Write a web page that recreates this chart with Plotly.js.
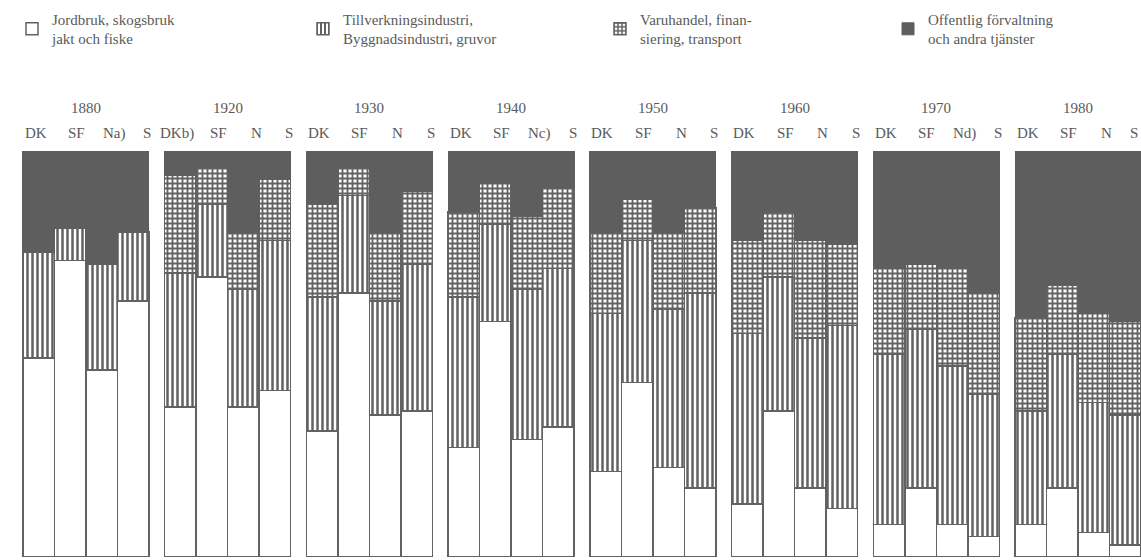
<!DOCTYPE html>
<html>
<head>
<meta charset="utf-8">
<script src="https://cdn.plot.ly/plotly-3.0.1.min.js"></script>
<style>html,body{margin:0;padding:0;background:#fff;}#chart{width:1141px;height:560px;}</style>
</head>
<body>
<div id="chart"></div>
<script>
// Years (one panel each) and country labels for the four bars of each panel
const years = ["1880", "1920", "1930", "1940", "1950", "1960", "1970", "1980"];
const countryLabels = [
  ["DK", "SF", "Na)", "S"],
  ["DKb)", "SF", "N", "S"],
  ["DK", "SF", "N", "S"],
  ["DK", "SF", "Nc)", "S"],
  ["DK", "SF", "N", "S"],
  ["DK", "SF", "N", "S"],
  ["DK", "SF", "Nd)", "S"],
  ["DK", "SF", "N", "S"]
];
// Shares of employment (%) per sector, bars in order DK, SF, N, S for each year
const agriculture = [
  49, 73, 46, 63,
  37, 69, 37, 41,
  31, 65, 35, 36,
  27, 58, 29, 32,
  21, 43, 22, 17,
  13, 36, 17, 12,
  8, 17, 8, 5,
  8, 17, 6, 3
];
const manufacturing = [
  26, 8, 26, 17,
  33, 18, 29, 37,
  33, 24, 28, 36,
  37, 24, 37, 39,
  39, 35, 39, 48,
  42, 33, 37, 45,
  42, 39, 39, 35,
  28, 33, 32, 32
];
const trade = [
  0, 0, 0, 0,
  24, 9, 14, 15,
  23, 7, 17, 18,
  21, 10, 18, 20,
  20, 10, 19, 21,
  23, 16, 24, 20,
  21, 16, 24, 25,
  23, 17, 22, 23
];
const services = [
  25, 19, 28, 20,
  6, 4, 20, 7,
  13, 4, 20, 10,
  15, 8, 16, 9,
  20, 12, 20, 14,
  22, 15, 22, 23,
  29, 28, 29, 35,
  41, 33, 40, 42
];
const sectorNames = [
  "Jordbruk, skogsbruk<br>jakt och fiske",
  "Tillverkningsindustri,<br>Byggnadsindustri, gruvor",
  "Varuhandel, finan-<br>siering, transport",
  "Offentlig förvaltning<br>och andra tjänster"
];

// Layout helpers (positions only)
const groupStep = 4.5;
const labelOffsets = [-0.1, 1.2, 2.4, 3.45];
const xs = [];
const annotations = [];

const ink = "#626262";
const textInk = "#5a5a5a";
const dark = "#5e5e5e";
const serif = "Liberation Serif, DejaVu Serif, serif";
const line = {color: ink, width: 1.5};

years.forEach((y, g) => {
  annotations.push({
    x: g * groupStep + 1.5, xref: "x", y: 1.106, yref: "paper", yanchor: "middle",
    text: y, showarrow: false, font: {family: serif, size: 15, color: textInk}
  });
  for (let i = 0; i < 4; i++) {
    xs.push(g * groupStep + i);
    const last = (g === years.length - 1 && i === 3);
    annotations.push({
      x: g * groupStep + labelOffsets[i], xref: "x", y: 1.044, yref: "paper", yanchor: "middle",
      xshift: last ? -5 : 0,
      text: countryLabels[g][i], showarrow: false, font: {family: serif, size: 15, color: textInk}
    });
  }
});

const traces = [
  {type: "bar", x: xs, y: agriculture, name: sectorNames[0], width: 1, legend: "legend",
   marker: {color: "#ffffff", line: line}},
  {type: "bar", x: xs, y: manufacturing, name: sectorNames[1], width: 1, legend: "legend2",
   marker: {color: "#ffffff", line: line,
     pattern: {shape: "|", bgcolor: "#ffffff", fgcolor: ink, size: 5, solidity: 0.5}}},
  {type: "bar", x: xs, y: trade, name: sectorNames[2], width: 1, legend: "legend3",
   marker: {color: "#ffffff", line: line,
     pattern: {shape: "+", bgcolor: "#ffffff", fgcolor: ink, size: 5, solidity: 0.6}}},
  {type: "bar", x: xs, y: services, name: sectorNames[3], width: 1, legend: "legend4",
   marker: {color: dark, line: {color: dark, width: 1}}}
];

function legendAt(px) {
  return {
    x: px / 1141, xanchor: "left", y: 1.365, yanchor: "top",
    font: {family: serif, size: 15, color: textInk},
    bgcolor: "rgba(0,0,0,0)", borderwidth: 0
  };
}

const layout = {
  width: 1141, height: 560,
  margin: {l: 0, r: 0, t: 151, b: 3},
  paper_bgcolor: "#ffffff", plot_bgcolor: "#ffffff",
  barmode: "stack",
  showlegend: true,
  legend: legendAt(12),
  legend2: legendAt(303),
  legend3: legendAt(600),
  legend4: legendAt(888),
  xaxis: {
    range: [-1.23, 35.0], showticklabels: false,
    ticks: "", showgrid: false, zeroline: false, showline: false, fixedrange: true
  },
  yaxis: {range: [0, 100], visible: false, fixedrange: true},
  annotations: annotations
};

Plotly.newPlot("chart", traces, layout, {displayModeBar: false, staticPlot: true});
</script>
</body>
</html>
